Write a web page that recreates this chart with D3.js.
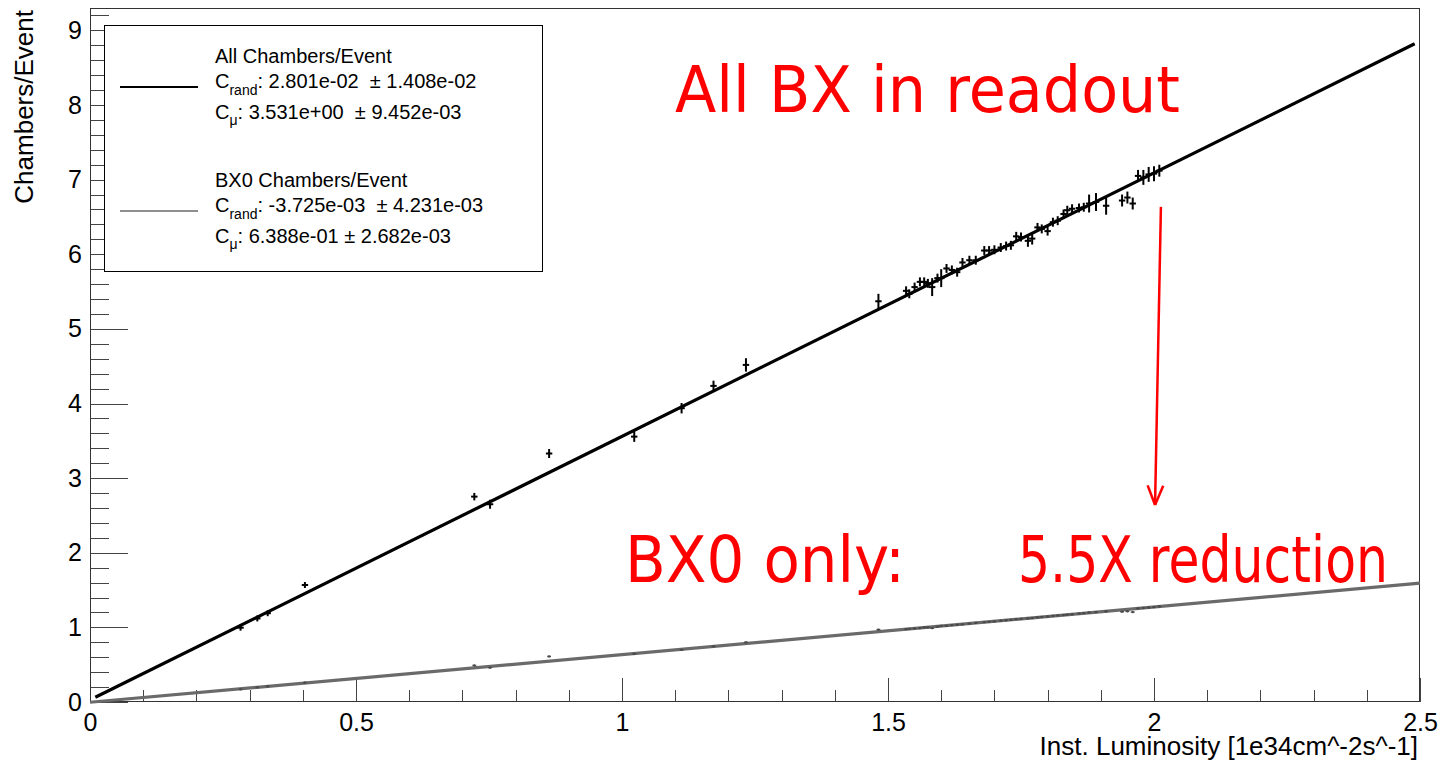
<!DOCTYPE html>
<html><head><meta charset="utf-8">
<script src="https://cdn.jsdelivr.net/npm/d3@7"></script>
<style>body{margin:0;background:#fff}svg{display:block}text{white-space:pre}</style>
</head><body><svg id="c" width="1439" height="761"></svg>
<script>
// ---------------- data ----------------
const lumi = [0.283,0.3145,0.334,0.404,0.7224,0.752,0.863,1.023,1.112,1.172,1.233,1.482,
  1.534,1.540,1.550,1.560,1.568,1.575,1.583,1.593,1.600,1.610,1.620,1.630,1.640,1.653,1.665,
  1.681,1.690,1.700,1.712,1.722,1.731,1.741,1.750,1.763,1.771,1.781,1.789,1.800,1.810,1.819,
  1.830,1.837,1.846,1.859,1.868,1.878,1.891,1.910,1.940,1.950,1.960,1.970,1.980,1.990,2.000,2.010];
const allChambers = [0.996,1.12,1.19,1.568,2.752,2.65,3.33,3.556,3.937,4.236,4.517,5.37,
  5.51,5.47,5.56,5.63,5.63,5.61,5.56,5.68,5.68,5.81,5.79,5.76,5.89,5.92,5.92,
  6.05,6.05,6.06,6.09,6.11,6.12,6.24,6.23,6.18,6.21,6.36,6.34,6.31,6.43,6.45,
  6.54,6.59,6.61,6.62,6.63,6.68,6.70,6.65,6.72,6.76,6.68,7.05,7.03,7.07,7.08,7.12];
const allErr = [0.04,0.04,0.04,0.04,0.05,0.06,0.06,0.07,0.07,0.07,0.09,0.10,
  0.06,0.06,0.06,0.06,0.06,0.06,0.12,0.06,0.12,0.06,0.06,0.06,0.06,0.06,0.06,
  0.06,0.06,0.06,0.06,0.06,0.06,0.06,0.06,0.08,0.08,0.06,0.06,0.06,0.06,0.06,
  0.06,0.06,0.06,0.06,0.06,0.12,0.12,0.12,0.08,0.08,0.08,0.08,0.10,0.10,0.10,0.08];
const bx0Chambers = [0.17,0.196,0.21,0.26,0.49,0.46,0.61,0.645,0.70,0.745,0.80,0.97,
  0.975,0.98,0.985,0.99,1.0,1.0,0.99,1.01,1.02,1.02,1.03,1.035,1.04,1.05,1.06,
  1.07,1.075,1.08,1.09,1.095,1.10,1.11,1.115,1.12,1.125,1.135,1.14,1.145,1.155,1.16,
  1.165,1.17,1.175,1.185,1.19,1.20,1.205,1.215,1.21,1.215,1.205,1.255,1.26,1.265,1.27,1.28];
const bx0Err = 0.015;
const lumiErr = 0.006;

// fit results (C_rand + C_mu * L)
const allFit = [2.801e-02, 3.531];
const bx0Fit = [-3.725e-03, 0.6388];

const xMajorTicks = [0, 0.5, 1, 1.5, 2, 2.5];
const xTickLabels = ["0", "0.5", "1", "1.5", "2", "2.5"];
const yMajorTicks = [0,1,2,3,4,5,6,7,8,9];

const legendTitles = ["All Chambers/Event", "BX0 Chambers/Event"];
const legendRand = ["2.801e-02  \u00b1 1.408e-02", "-3.725e-03  \u00b1 4.231e-03"];
const legendMu   = ["3.531e+00  \u00b1 9.452e-03", "6.388e-01 \u00b1 2.682e-03"];

const xTitle = "Inst. Luminosity [1e34cm^-2s^-1]";
const yTitle = "Chambers/Event";
const notes = ["All BX in readout", "BX0 only:", "5.5X reduction"];

// ---------------- drawing ----------------
const svg = d3.select("#c");
const FONT = "'Liberation Sans', Arial, Helvetica, sans-serif";
const x = d3.scaleLinear().domain([0, 2.5]).range([90, 1420]);
const y = d3.scaleLinear().domain([0, 9.3]).range([702, 8]);

const xMinor = d3.range(0, 2.5001, 0.1).filter(v => Math.abs(v*2 - Math.round(v*2)) > 1e-6);
const yMinor = d3.range(0, 9.2001, 0.2).filter(v => Math.abs(v - Math.round(v)) > 1e-6);

function styleAxis(g){
  g.select(".domain").remove();
  g.selectAll(".tick line").attr("stroke", "#444").attr("shape-rendering", "crispEdges");
  g.selectAll("text").attr("font-family", FONT).attr("font-size", 25).attr("fill", "#000");
}

// y axis
svg.append("g").attr("transform", "translate(90,0)")
  .call(d3.axisLeft(y).tickValues(yMinor).tickSize(-19).tickFormat(""))
  .call(styleAxis);
svg.append("g").attr("transform", "translate(90,0)")
  .call(d3.axisLeft(y).tickValues(yMajorTicks).tickSize(-38).tickPadding(8).tickFormat(d3.format("d")))
  .call(styleAxis);
// x axis
svg.append("g").attr("transform", "translate(0,702)")
  .call(d3.axisBottom(x).tickValues(xMinor).tickSize(-12).tickFormat(""))
  .call(styleAxis);
svg.append("g").attr("transform", "translate(0,702)")
  .call(d3.axisBottom(x).tickValues(xMajorTicks).tickSize(-24).tickPadding(11)
        .tickFormat((d,i) => xTickLabels[i]))
  .call(styleAxis);

// frame
svg.append("rect").attr("x", 90.5).attr("y", 8.5).attr("width", 1329).attr("height", 693)
  .attr("fill", "none").attr("stroke", "#333").attr("stroke-width", 1).attr("shape-rendering", "crispEdges");

// axis titles
svg.append("text").attr("transform", "translate(33,10) rotate(-90)")
  .attr("text-anchor", "end").attr("font-family", FONT).attr("font-size", 26).text(yTitle);
svg.append("text").attr("x", 1418).attr("y", 755)
  .attr("text-anchor", "end").attr("font-family", FONT).attr("font-size", 26).text(xTitle);

const plot = svg.append("g");
// fit lines
const line = d3.line().x(d => x(d[0])).y(d => y(d[1]));
const fitPts = (p, a, b) => [[a, p[0] + p[1]*a], [b, p[0] + p[1]*b]];
plot.append("path").attr("d", line(fitPts(bx0Fit, 0.0, 2.5)))
  .attr("stroke", "#6a6a6a").attr("stroke-width", 3.2).attr("fill", "none");

// BX0 points
const bx0 = plot.append("g").attr("stroke", "#4a4a4a").attr("stroke-width", 1.5);
lumi.forEach((L, i) => {
  bx0.append("line").attr("x1", x(L)).attr("x2", x(L)).attr("y1", y(bx0Chambers[i]-bx0Err)).attr("y2", y(bx0Chambers[i]+bx0Err));
  bx0.append("line").attr("x1", x(L-lumiErr*0.6)).attr("x2", x(L+lumiErr*0.6)).attr("y1", y(bx0Chambers[i])).attr("y2", y(bx0Chambers[i]));
});

plot.append("path").attr("d", line(fitPts(allFit, 0.01, 2.49)))
  .attr("stroke", "#000").attr("stroke-width", 3.2).attr("fill", "none");

// All points
const allG = plot.append("g").attr("stroke", "#000").attr("stroke-width", 2);
lumi.forEach((L, i) => {
  allG.append("line").attr("x1", x(L)).attr("x2", x(L)).attr("y1", y(allChambers[i]-allErr[i])).attr("y2", y(allChambers[i]+allErr[i]));
  allG.append("line").attr("x1", x(L-lumiErr)).attr("x2", x(L+lumiErr)).attr("y1", y(allChambers[i])).attr("y2", y(allChambers[i]));
});

// legend
const leg = svg.append("g");
leg.append("rect").attr("x", 104.5).attr("y", 25.5).attr("width", 438).attr("height", 246)
  .attr("fill", "#fff").attr("stroke", "#000").attr("stroke-width", 1).attr("shape-rendering", "crispEdges");
const legColors = ["#000", "#6a6a6a"];
const legBase = [63, 187];
legendTitles.forEach((t, i) => {
  const b = legBase[i];
  leg.append("line").attr("x1", 120).attr("x2", 198).attr("y1", b + 24).attr("y2", b + 24)
    .attr("stroke", legColors[i]).attr("stroke-width", i ? 1.5 : 2.2);
  leg.append("text").attr("x", 215).attr("y", b).attr("font-family", FONT).attr("font-size", 20).text(t);
  const t1 = leg.append("text").attr("x", 215).attr("y", b + 25).attr("font-family", FONT).attr("font-size", 20);
  t1.append("tspan").text("C");
  t1.append("tspan").attr("dy", 7).attr("font-size", 14).text("rand");
  t1.append("tspan").attr("dy", -7).text(": " + legendRand[i]);
  const t2 = leg.append("text").attr("x", 215).attr("y", b + 56).attr("font-family", FONT).attr("font-size", 20);
  t2.append("tspan").text("C");
  t2.append("tspan").attr("dy", 6).attr("font-size", 14).text("\u03bc");
  t2.append("tspan").attr("dy", -6).text(": " + legendMu[i]);
});

// red annotations
const RED = "#ff0000";
const RFONT = "'DejaVu Sans', sans-serif";
const noteSpec = [[675, 112, 505], [625, 582, 280], [1018, 582, 370]];
notes.forEach((t, i) => {
  svg.append("text").attr("x", noteSpec[i][0]).attr("y", noteSpec[i][1])
    .attr("font-family", RFONT).attr("font-size", 64).attr("fill", RED)
    .attr("textLength", noteSpec[i][2]).attr("lengthAdjust", "spacingAndGlyphs").text(t);
});
// arrow
const a0 = [x(2.013), y(6.635)], a1 = [x(2.002), y(2.64)];
svg.append("line").attr("x1", a0[0]).attr("y1", a0[1]).attr("x2", a1[0]).attr("y2", a1[1])
  .attr("stroke", RED).attr("stroke-width", 2.5);
const ang = Math.atan2(a1[1]-a0[1], a1[0]-a0[0]);
[0.38, -0.38].forEach(d => {
  svg.append("line").attr("x1", a1[0]).attr("y1", a1[1])
    .attr("x2", a1[0] - 21*Math.cos(ang + d)).attr("y2", a1[1] - 21*Math.sin(ang + d))
    .attr("stroke", RED).attr("stroke-width", 2.5);
});
</script></body></html>
